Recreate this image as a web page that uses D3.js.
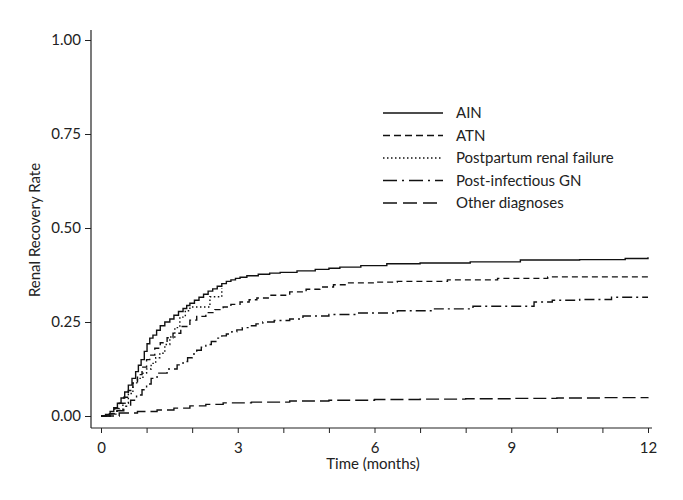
<!DOCTYPE html>
<html><head><meta charset="utf-8">
<script src="https://cdn.jsdelivr.net/npm/d3@7"></script>
<style>body{margin:0;background:#fff}svg{display:block}text{font-family:Lato,"Open Sans",sans-serif;fill:#222}</style>
</head><body><svg id="c" width="683" height="500"></svg>
<script>
const xTicks = [0,3,6,9,12];
const yTicks = [0,0.25,0.5,0.75,1];
const seriesNames = ["AIN","ATN","Postpartum renal failure","Post-infectious GN","Other diagnoses"];
const ainT = [0,0.1,0.2,0.28,0.36,0.44,0.52,0.6,0.68,0.76,0.82,0.88,0.95,1.01,1.07,1.14,1.22,1.3,1.4,1.51,1.6,1.7,1.8,1.88,1.95,2.05,2.15,2.25,2.35,2.45,2.55,2.65,2.75,2.85,2.95,3.05,3.2,3.45,3.7,3.93,4.3,4.7,5.0,5.24,5.7,6.27,7.0,8.1,9.2,10.5,11.5,12];
const ainV = [0,0.004,0.012,0.022,0.034,0.048,0.064,0.082,0.1,0.118,0.135,0.15,0.172,0.192,0.207,0.215,0.228,0.24,0.25,0.258,0.268,0.278,0.286,0.294,0.3,0.308,0.316,0.324,0.332,0.338,0.345,0.352,0.358,0.362,0.366,0.369,0.373,0.377,0.38,0.382,0.386,0.39,0.393,0.396,0.4,0.405,0.407,0.41,0.415,0.416,0.419,0.422];
const atnT = [0,0.15,0.3,0.4,0.5,0.6,0.7,0.8,0.9,1.0,1.07,1.18,1.3,1.45,1.58,1.75,1.95,2.1,2.3,2.5,2.68,2.85,3.05,3.25,3.42,3.7,4.14,4.5,4.8,5.1,5.4,6.0,6.5,7.6,8.7,9.8,11,12];
const atnV = [0,0.006,0.02,0.034,0.05,0.068,0.088,0.11,0.13,0.15,0.162,0.18,0.195,0.208,0.22,0.238,0.255,0.265,0.275,0.283,0.29,0.297,0.303,0.309,0.314,0.321,0.33,0.337,0.343,0.349,0.354,0.356,0.358,0.362,0.366,0.37,0.37,0.372];
const ppT = [0,0.2,0.35,0.48,0.6,0.7,0.8,0.92,1.0,1.1,1.2,1.29,1.4,1.51,1.62,1.73,1.85,1.95,2.39,2.5,2.65];
const ppV = [0,0.005,0.015,0.034,0.06,0.088,0.1,0.114,0.125,0.14,0.155,0.167,0.19,0.21,0.235,0.263,0.28,0.29,0.317,0.317,0.34];
const pigT = [0,0.2,0.35,0.5,0.65,0.78,0.9,1.0,1.1,1.23,1.45,1.67,1.8,1.9,2.0,2.1,2.2,2.3,2.42,2.54,2.65,2.75,2.87,2.98,3.1,3.25,3.4,3.55,3.8,4.14,4.43,5.0,5.6,6.5,7.3,8.16,9.5,9.9,10.5,11.2,12];
const pigV = [0,0.006,0.014,0.026,0.042,0.056,0.07,0.085,0.1,0.114,0.125,0.136,0.145,0.155,0.165,0.175,0.183,0.19,0.198,0.207,0.213,0.218,0.224,0.229,0.235,0.24,0.245,0.25,0.254,0.258,0.266,0.27,0.274,0.28,0.285,0.292,0.303,0.308,0.31,0.316,0.316];
const othT = [0,0.4,0.8,1.23,1.6,1.95,2.3,2.68,3.3,4.14,5,6,7,8,9,10,11,12];
const othV = [0,0.008,0.012,0.016,0.021,0.027,0.031,0.035,0.037,0.04,0.042,0.044,0.045,0.046,0.047,0.048,0.049,0.05];

const svg = d3.select("#c");
const x = d3.scaleLinear().domain([0,12]).range([101,648]);
const y = d3.scaleLinear().domain([0,1]).range([416,40]);
const FS = "15px";

const gx = svg.append("g").attr("transform","translate(0,428)")
  .call(d3.axisBottom(x).tickValues(d3.range(0,13)).tickSize(5).tickSizeOuter(0).tickPadding(9)
    .tickFormat(d=>xTicks.includes(d)?d:""));
gx.select(".domain").remove();
gx.selectAll("text").style("font-size",FS).style("font-family","Lato");
gx.selectAll("line").attr("stroke","#222");
const gy = svg.append("g").attr("transform","translate(91,0)")
  .call(d3.axisLeft(y).tickValues(yTicks).tickSize(6).tickSizeOuter(0).tickPadding(4).tickFormat(d3.format(".2f")));
gy.select(".domain").remove();
gy.selectAll("text").style("font-size",FS).style("font-family","Lato");
gy.selectAll("line").attr("stroke","#222");
svg.append("line").attr("x1",91).attr("x2",91).attr("y1",30).attr("y2",428).attr("stroke","#222").attr("stroke-width",1.2);
svg.append("line").attr("x1",91).attr("x2",652).attr("y1",428).attr("y2",428).attr("stroke","#222").attr("stroke-width",1.2);

svg.append("text").attr("x",373).attr("y",469).attr("text-anchor","middle").style("font-size",FS).text("Time (months)");
svg.append("text").attr("transform","translate(40,230) rotate(-90)").attr("text-anchor","middle").style("font-size",FS).text("Renal Recovery Rate");

const dashes = [null,"6,4","1.5,2.5","10,4,2,4","13,5"];
const data = [[ainT,ainV],[atnT,atnV],[ppT,ppV],[pigT,pigV],[othT,othV]];
const line = d3.line().x(d=>x(d[0])).y(d=>y(d[1])).curve(d3.curveStepAfter);
data.forEach((s,i)=>{
  const pts = s[0].map((t,j)=>[t,s[1][j]]);
  svg.append("path").attr("d",line(pts)).attr("fill","none").attr("stroke","#111")
    .attr("stroke-width",1.4).attr("stroke-dasharray",dashes[i]);
});

const legDash = [null,"7,4","1.5,2.5","14,5,2,5","14,6"];
seriesNames.forEach((n,i)=>{
  const yy = 113 + i*22.5;
  svg.append("line").attr("x1",383).attr("x2",443).attr("y1",yy).attr("y2",yy)
    .attr("stroke","#111").attr("stroke-width",1.3).attr("stroke-dasharray",legDash[i]);
  svg.append("text").attr("x",456).attr("y",yy+5).style("font-size",FS).text(n);
});
</script></body></html>
